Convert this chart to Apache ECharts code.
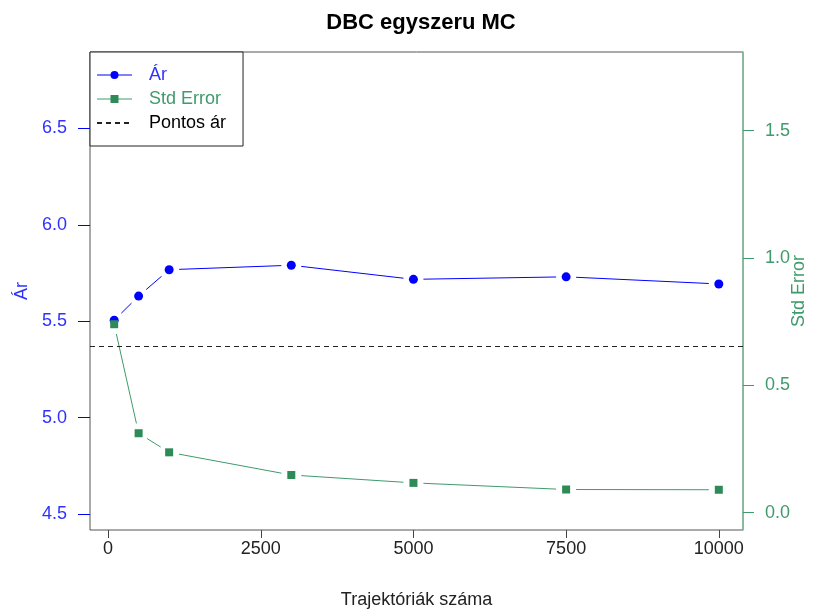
<!DOCTYPE html>
<html>
<head>
<meta charset="utf-8">
<script src="https://cdn.jsdelivr.net/npm/echarts@6/dist/echarts.min.js"></script>
<style>
  html, body { margin: 0; padding: 0; background: #fff; }
  #main { width: 815px; height: 614px; }
</style>
</head>
<body>
<div id="main"></div>
<script>
// trajektóriák száma
var trajectories = [100, 500, 1000, 3000, 5000, 7500, 10000];
// ár becslések
var price = [5.505, 5.63, 5.767, 5.79, 5.717, 5.73, 5.693];
// standard hiba
var stdError = [0.740, 0.312, 0.237, 0.148, 0.117, 0.091, 0.090];
// pontos ár
var exactPrice = 5.37;

var xTicks = [0, 2500, 5000, 7500, 10000];
var priceTicks = [4.5, 5.0, 5.5, 6.0, 6.5];
var seTicks = [0, 0.5, 1.0, 1.5];

var BLUE = '#0000ff';
var BLUE_TXT = '#3030ff';
var GREEN = '#2e8b57';
var GREEN_TXT = '#3f9a6c';
var GAP = 10;

// R type="b": vonal szakaszok résekkel a pontok körül
function gappedLine(ys, color, yIdx) {
  var data = ys.slice(0, -1).map(function (y, i) {
    return [trajectories[i], y, trajectories[i + 1], ys[i + 1]];
  });
  return {
    type: 'custom',
    yAxisIndex: yIdx,
    silent: true,
    z: 1,
    encode: { x: [0, 2], y: [1, 3] },
    data: data,
    renderItem: function (params, api) {
      var a = api.coord([api.value(0), api.value(1)]);
      var b = api.coord([api.value(2), api.value(3)]);
      var dx = b[0] - a[0], dy = b[1] - a[1];
      var len = Math.sqrt(dx * dx + dy * dy);
      if (len <= 2 * GAP) return null;
      var ux = dx / len, uy = dy / len;
      return {
        type: 'line',
        shape: {
          x1: a[0] + ux * GAP, y1: a[1] + uy * GAP,
          x2: b[0] - ux * GAP, y2: b[1] - uy * GAP
        },
        style: { stroke: color, lineWidth: 1 }
      };
    }
  };
}

var myChart = echarts.init(document.getElementById('main'));

var option = {
  animation: false,
  textStyle: { fontFamily: 'Liberation Sans, Arial, sans-serif' },
  title: {
    text: 'DBC egyszeru MC',
    left: 416,
    textAlign: 'center',
    top: 7,
    textStyle: { fontSize: 22, fontWeight: 'bold', color: '#000', fontFamily: 'Liberation Sans, Arial, sans-serif' }
  },
  legend: {
    left: 90,
    top: 52,
    orient: 'vertical',
    backgroundColor: '#fff',
    borderColor: '#222',
    borderWidth: 1,
    borderRadius: 0,
    padding: [14, 17, 14, 6],
    itemWidth: 35,
    itemHeight: 10,
    itemGap: 6,
    selectedMode: false,
    textStyle: { fontSize: 18, lineHeight: 18, padding: [0, 0, 0, 12] },
    data: [
      { name: 'Ár', lineStyle: { color: BLUE, width: 1, opacity: 1 }, textStyle: { color: BLUE_TXT } },
      { name: 'Std Error', lineStyle: { color: GREEN_TXT, width: 1, opacity: 1 }, textStyle: { color: GREEN_TXT } },
      { name: 'Pontos ár', itemStyle: { opacity: 0 }, textStyle: { color: '#000' } }
    ]
  },
  grid: {
    left: 90,
    right: 72,
    top: 52,
    bottom: 84,
    containLabel: false,
    outerBoundsMode: 'none',
    show: true,
    borderColor: '#555',
    borderWidth: 1
  },
  xAxis: {
    type: 'value',
    min: -296,
    max: 10396,
    name: 'Trajektóriák száma',
    nameLocation: 'middle',
    nameGap: 61,
    nameTextStyle: { fontSize: 18, color: '#222' },
    axisLine: { show: false, onZero: false },
    axisTick: { length: 8, lineStyle: { color: '#444' }, customValues: xTicks },
    axisLabel: {
      fontSize: 18, color: '#222', margin: 10, customValues: xTicks,
      formatter: function (v) { return String(v); }
    },
    splitLine: { show: false }
  },
  yAxis: [
    {
      type: 'value',
      min: 4.417,
      max: 6.896,
      name: 'Ár',
      nameLocation: 'middle',
      nameGap: 58,
      nameTextStyle: { fontSize: 18, color: BLUE_TXT },
      axisLine: { show: false, onZero: false },
      axisTick: { length: 12, lineStyle: { color: BLUE }, customValues: priceTicks },
      axisLabel: {
        fontSize: 18, color: BLUE_TXT, margin: 23, customValues: priceTicks,
        formatter: function (v) { return v.toFixed(1); }
      },
      splitLine: { show: false }
    },
    {
      type: 'value',
      position: 'right',
      min: -0.068,
      max: 1.809,
      name: 'Std Error',
      nameLocation: 'middle',
      nameGap: 47,
      nameMoveOverlap: false,
      nameTextStyle: { fontSize: 18, color: GREEN_TXT },
      axisLine: { show: true, onZero: false, lineStyle: { color: '#7fbf9c', width: 1.5 } },
      axisTick: { length: 11, lineStyle: { color: GREEN_TXT }, customValues: seTicks },
      axisLabel: {
        fontSize: 18, color: GREEN_TXT, margin: 22, customValues: seTicks,
        formatter: function (v) { return v.toFixed(1); }
      },
      splitLine: { show: false }
    }
  ],
  series: [
    gappedLine(price, BLUE, 0),
    gappedLine(stdError, GREEN_TXT, 1),
    {
      name: 'Pontos ár',
      type: 'line',
      yAxisIndex: 0,
      data: [],
      symbol: 'none',
      lineStyle: { color: '#222', width: 1, type: [5, 4] },
      markLine: {
        silent: true,
        symbol: 'none',
        label: { show: false },
        lineStyle: { color: '#222', width: 1, type: [5, 4] },
        data: [{ yAxis: exactPrice }]
      }
    },
    {
      name: 'Ár',
      type: 'line',
      yAxisIndex: 0,
      data: trajectories.map(function (x, i) { return [x, price[i]]; }),
      symbol: 'circle',
      symbolSize: 9,
      itemStyle: { color: BLUE },
      lineStyle: { opacity: 0 },
      z: 3
    },
    {
      name: 'Std Error',
      type: 'line',
      yAxisIndex: 1,
      data: trajectories.map(function (x, i) { return [x, stdError[i]]; }),
      symbol: 'rect',
      symbolSize: 8,
      itemStyle: { color: GREEN },
      lineStyle: { opacity: 0 },
      z: 4
    }
  ]
};

myChart.setOption(option);

window.addEventListener('resize', function () {
  myChart.resize();
});
</script>
</body>
</html>
